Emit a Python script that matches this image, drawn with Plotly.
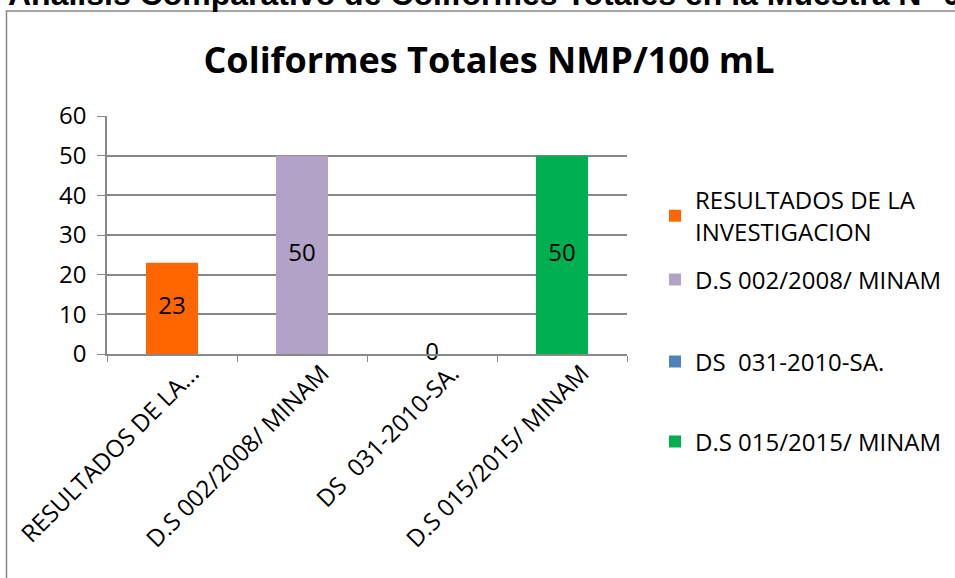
import plotly.graph_objects as go

categories = ["RESULTADOS DE LA INVESTIGACION", "D.S 002/2008/ MINAM",
              "DS  031-2010-SA.", "D.S 015/2015/ MINAM"]
tick_labels = ["RESULTADOS DE LA...", "D.S 002/2008/ MINAM",
               "DS\u00a0\u00a0031-2010-SA.", "D.S 015/2015/ MINAM"]
legend_names = ["RESULTADOS DE LA<br>INVESTIGACION", "D.S 002/2008/ MINAM",
                "DS\u00a0\u00a0031-2010-SA.", "D.S 015/2015/ MINAM"]
values = [23, 50, 0, 50]
colors = ["#FF6600", "#B3A2C7", "#4F81BD", "#00B050"]
y_ticks = [0, 10, 20, 30, 40, 50, 60]
chart_title = "Coliformes Totales NMP/100 mL"
page_heading = "Analisis Comparativo de Coliformes Totales en la Muestra N° 0"

FONT = "Open Sans"
FS = 24
W, H = 955, 578
ML, MR, MT, MB = 107, 328, 116, 224
PW, PH = W - ML - MR, H - MT - MB
legend_centers = [216, 280, 362, 442]

def px_x(p):
    return (p - ML) / PW

def px_y(p):
    return (H - MB - p) / PH

fig = go.Figure()
legend_ids = ["legend", "legend2", "legend3", "legend4"]
for cat, name, val, col, lid in zip(categories, legend_names, values, colors, legend_ids):
    fig.add_trace(go.Bar(x=[cat], y=[val], name=name, marker_color=col,
                         marker_line_width=0, width=0.4, legend=lid))

fig.add_trace(go.Scatter(x=categories, y=[v / 2 for v in values],
                         text=[str(v) for v in values], mode="text",
                         textposition="middle center",
                         textfont=dict(family=FONT, size=FS, color="#000000"),
                         showlegend=False, hoverinfo="skip", cliponaxis=False))

fig.add_shape(type="rect", xref="paper", yref="paper",
              x0=px_x(6.5), x1=px_x(W + 20), y0=px_y(H + 20), y1=px_y(11),
              line=dict(color="#888888", width=1.5), fillcolor="rgba(0,0,0,0)",
              layer="below")

fig.add_annotation(text="<b>" + page_heading + "</b>", xref="paper", yref="paper",
                   x=px_x(6), y=px_y(14), xanchor="left", yanchor="bottom",
                   showarrow=False,
                   font=dict(family="Liberation Sans", size=32, color="#000000"))

legend_common = dict(xanchor="left", yanchor="middle",
                     font=dict(family=FONT, size=FS, color="#000000"),
                     itemwidth=30, bgcolor="rgba(0,0,0,0)", maxheight=400)
legends = {}
for lid, c in zip(legend_ids, legend_centers):
    legends[lid] = dict(x=px_x(655), y=px_y(c), **legend_common)

fig.update_layout(
    width=W, height=H,
    margin=dict(l=ML, r=MR, t=MT, b=MB, pad=0, autoexpand=False),
    paper_bgcolor="white", plot_bgcolor="white",
    barmode="overlay",
    title=dict(text="<b>" + chart_title + "</b>", x=(205 + 773) / 2 / W, xanchor="center",
               y=1 - 60 / H, yanchor="middle",
               font=dict(family=FONT, size=36, color="#000000")),
    font=dict(family=FONT, size=FS, color="#000000"),
    showlegend=True,
    xaxis=dict(type="category", categoryorder="array", categoryarray=categories,
               tickvals=categories, ticktext=tick_labels, tickangle=-45,
               tickson="boundaries", ticks="outside", ticklen=6, tickcolor="#888888",
               showline=True, linecolor="#888888", linewidth=1.5, automargin=False,
               ticklabelshift=20, ticklabelstandoff=-6,
               showgrid=False, tickfont=dict(family=FONT, size=FS, color="#000000")),
    yaxis=dict(range=[0, 60], tickvals=y_ticks, ticks="outside", ticklen=8,
               tickcolor="#888888", showline=True, linecolor="#888888", linewidth=1.5,
               showgrid=True, gridcolor="#888888", gridwidth=1.5, zeroline=False,
               automargin=False,
               tickfont=dict(family=FONT, size=FS, color="#000000"), ticklabelstandoff=6),
    **legends,
)

fig.write_html("out.html", config={"displayModeBar": False},
               post_script="document.body.style.margin='0';document.body.style.overflow='hidden';")
